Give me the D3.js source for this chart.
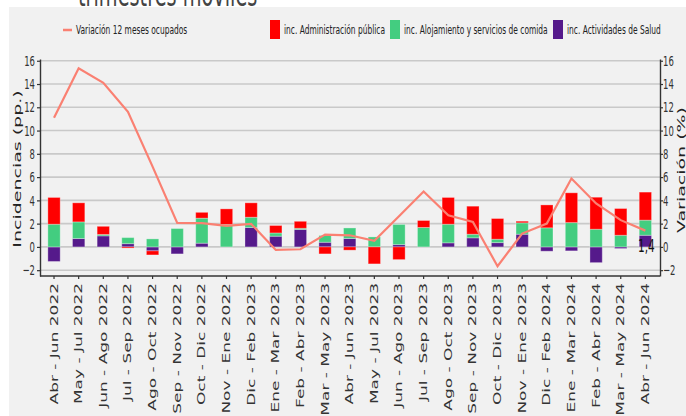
<!DOCTYPE html>
<html>
<head>
<meta charset="utf-8">
<script src="https://cdn.jsdelivr.net/npm/d3@7"></script>
<style>
  body { margin: 0; background: #fff; }
  svg { display: block; font-family: "DejaVu Sans", sans-serif; }
</style>
</head>
<body>
<svg id="chart" width="686" height="416"></svg>
<script>
// categories (trimestres móviles)
var periodos = [
  "Abr - Jun 2022", "May - Jul 2022", "Jun - Ago 2022", "Jul - Sep 2022", "Ago - Oct 2022",
  "Sep - Nov 2022", "Oct - Dic 2022", "Nov - Ene 2022", "Dic - Feb 2023", "Ene - Mar 2023",
  "Feb - Abr 2023", "Mar - May 2023", "Abr - Jun 2023", "May - Jul 2023", "Jun - Ago 2023",
  "Jul - Sep 2023", "Ago - Oct 2023", "Sep - Nov 2023", "Oct - Dic 2023", "Nov - Ene 2023",
  "Dic - Feb 2024", "Ene - Mar 2024", "Feb - Abr 2024", "Mar - May 2024", "Abr - Jun 2024"
];

// incidencias (pp.)
var adminPublica = [2.3, 1.64, 0.7, -0.1, -0.35, 0, 0.5, 1.34, 1.24, 0.64, 0.6, -0.6, -0.28,
  -1.46, -1.09, 0.6, 2.3, 2.41, 1.78, 0.14, 1.97, 2.56, 2.75, 2.3, 2.41];
var alojamiento = [1.95, 1.43, 0.12, 0.52, 0.69, 1.58, 2.15, 1.93, 0.88, 0.28, 0.1, 0.58, 0.91,
  0.86, 1.73, 1.67, 1.6, 0.31, 0.29, 0.98, 1.64, 2.09, 1.52, 1.0, 1.3];
var salud = [-1.25, 0.72, 0.95, 0.28, -0.34, -0.6, 0.32, 0, 1.67, 0.92, 1.5, 0.4, 0.72,
  0, 0.2, 0, 0.35, 0.78, 0.37, 1.09, -0.37, -0.34, -1.35, -0.14, 1.0];

// variación 12 meses ocupados (%)
var variacion = [11.1, 15.35, 14.11, 11.61, 6.9, 2.07, 2.04, 1.81, 1.98, -0.26, -0.2, 1.06, 1.0,
  0.52, 2.64, 4.76, 2.72, 2.15, -1.66, 1.15, 2.01, 5.88, 3.73, 2.3, 1.4];

var yTicks = [-2, 0, 2, 4, 6, 8, 10, 12, 14, 16];

var S = 0.585; // every text is squeezed horizontally like in the original picture

var colors = { admin: "#ff0000", aloj: "#43cd80", salud: "#551a8b", linea: "#fa8072" };

var svg = d3.select("#chart");

var rows = periodos.map(function(p, i) {
  return { periodo: p, salud: salud[i], aloj: alojamiento[i], admin: adminPublica[i], varia: variacion[i] };
});

var x = d3.scaleBand()
  .domain(periodos)
  .range([41.7, 657.7])
  .paddingInner(0.5)
  .paddingOuter(0.25);

var y = d3.scaleLinear()
  .domain([-2.5, 16.15])
  .range([276, 59]);

// title (cut at the top)
svg.append("text")
  .attr("transform", "translate(78,6) scale(" + S + ",1)")
  .attr("font-size", 33)
  .attr("fill", "#444")
  .text("trimestres móviles");

// panel background
svg.append("rect")
  .attr("x", 9).attr("y", 7)
  .attr("width", 677).attr("height", 409)
  .attr("fill", "#f1f1f1");

// grid
svg.append("g").selectAll("line")
  .data(yTicks)
  .enter().append("line")
    .attr("x1", 40).attr("x2", 660)
    .attr("y1", function(d) { return y(d); })
    .attr("y2", function(d) { return y(d); })
    .attr("stroke", "#c9c9c9")
    .attr("stroke-width", 1.6);

// stacked bars
var stack = d3.stack()
  .keys(["salud", "aloj", "admin"])
  .offset(d3.stackOffsetDiverging);

var series = stack(rows);

svg.append("g").selectAll("g")
  .data(series)
  .enter().append("g")
    .attr("fill", function(d) { return colors[d.key]; })
  .selectAll("rect")
  .data(function(d) { return d; })
  .enter().append("rect")
    .attr("x", function(d) { return x(d.data.periodo); })
    .attr("width", x.bandwidth())
    .attr("y", function(d) { return y(Math.max(d[0], d[1])); })
    .attr("height", function(d) { return Math.abs(y(d[0]) - y(d[1])); })
    .attr("stroke", "#fff")
    .attr("stroke-opacity", 0.3)
    .attr("stroke-width", 1);

// line
var line = d3.line()
  .x(function(d) { return x(d.periodo) + x.bandwidth() / 2; })
  .y(function(d) { return y(d.varia); });

svg.append("path")
  .datum(rows)
  .attr("d", line)
  .attr("fill", "none")
  .attr("stroke", colors.linea)
  .attr("stroke-width", 2.2);

// last value label
var ultimo = rows[rows.length - 1];
svg.append("text")
  .attr("transform", "translate(" + (x(ultimo.periodo) + x.bandwidth() / 2 + 1) + "," + (y(ultimo.varia) + 21.5) + ") scale(" + S + ",1)")
  .attr("text-anchor", "middle")
  .attr("font-size", 18)
  .attr("fill", "#111")
  .text(d3.format(".1f")(ultimo.varia).replace(".", ","));

// axes
function styleAxis(g) {
  g.select(".domain").attr("stroke", "#333").attr("stroke-width", 1.4);
  g.selectAll(".tick line").attr("stroke", "#333").attr("stroke-width", 1.2);
  g.selectAll(".tick text").attr("fill", "#333");
}

var yLeft = svg.append("g")
  .attr("transform", "translate(40,0)")
  .call(d3.axisLeft(y).tickValues(yTicks).tickSize(3).tickSizeOuter(0))
  .call(styleAxis);
yLeft.selectAll(".tick text")
  .attr("font-size", 14.5)
  .attr("font-family", "DejaVu Sans")
  .attr("x", -5 / S)
  .attr("transform", "scale(" + S + ",1)");

var yRight = svg.append("g")
  .attr("transform", "translate(660,0)")
  .call(d3.axisRight(y).tickValues(yTicks).tickSize(3).tickSizeOuter(0))
  .call(styleAxis);
yRight.selectAll(".tick text")
  .attr("font-size", 14.5)
  .attr("font-family", "DejaVu Sans")
  .attr("x", 3 / S)
  .attr("transform", "scale(" + S + ",1)");

var xAxis = svg.append("g")
  .attr("transform", "translate(0,276)")
  .call(d3.axisBottom(x).tickSize(3).tickSizeOuter(0))
  .call(styleAxis);
xAxis.select(".domain").attr("d", "M40,0H660");
xAxis.selectAll(".tick text")
  .attr("font-size", 17)
  .attr("font-family", "DejaVu Sans")
  .attr("x", -7)
  .attr("y", 0)
  .attr("dy", "0.35em")
  .attr("text-anchor", "end")
  .attr("transform", "scale(" + S + ",1) rotate(-90)");

// axis titles
svg.append("text")
  .attr("transform", "translate(20.5,169) scale(" + S + ",1) rotate(-90)")
  .attr("text-anchor", "middle")
  .attr("font-size", 19)
  .attr("fill", "#222")
  .text("Incidencias (pp.)");

svg.append("text")
  .attr("transform", "translate(684.8,170) scale(" + S + ",1) rotate(-90)")
  .attr("text-anchor", "middle")
  .attr("font-size", 19)
  .attr("fill", "#222")
  .text("Variación (%)");

// legend
var legendItems = [
  { label: "Variación 12 meses ocupados", color: colors.linea, tipo: "linea", x: 63 },
  { label: "inc. Administración pública", color: colors.admin, tipo: "caja", x: 270 },
  { label: "inc. Alojamiento y servicios de comida", color: colors.aloj, tipo: "caja", x: 390 },
  { label: "inc. Actividades de Salud", color: colors.salud, tipo: "caja", x: 553 }
];

var legend = svg.append("g").selectAll("g")
  .data(legendItems)
  .enter().append("g")
    .attr("transform", function(d) { return "translate(" + d.x + ",30)"; });

legend.filter(function(d) { return d.tipo === "linea"; })
  .append("line")
    .attr("x1", 0).attr("x2", 9)
    .attr("stroke", function(d) { return d.color; })
    .attr("stroke-width", 2.5);

legend.filter(function(d) { return d.tipo === "caja"; })
  .append("rect")
    .attr("y", -10)
    .attr("width", 10)
    .attr("height", 19)
    .attr("fill", function(d) { return d.color; });

legend.append("text")
  .attr("transform", function(d) { return "translate(" + (d.tipo === "linea" ? 13 : 14) + ",0) scale(" + S + ",1)"; })
  .attr("dy", "0.35em")
  .attr("font-size", 12.8)
  .attr("fill", "#222")
  .text(function(d) { return d.label; });
</script>
</body>
</html>
